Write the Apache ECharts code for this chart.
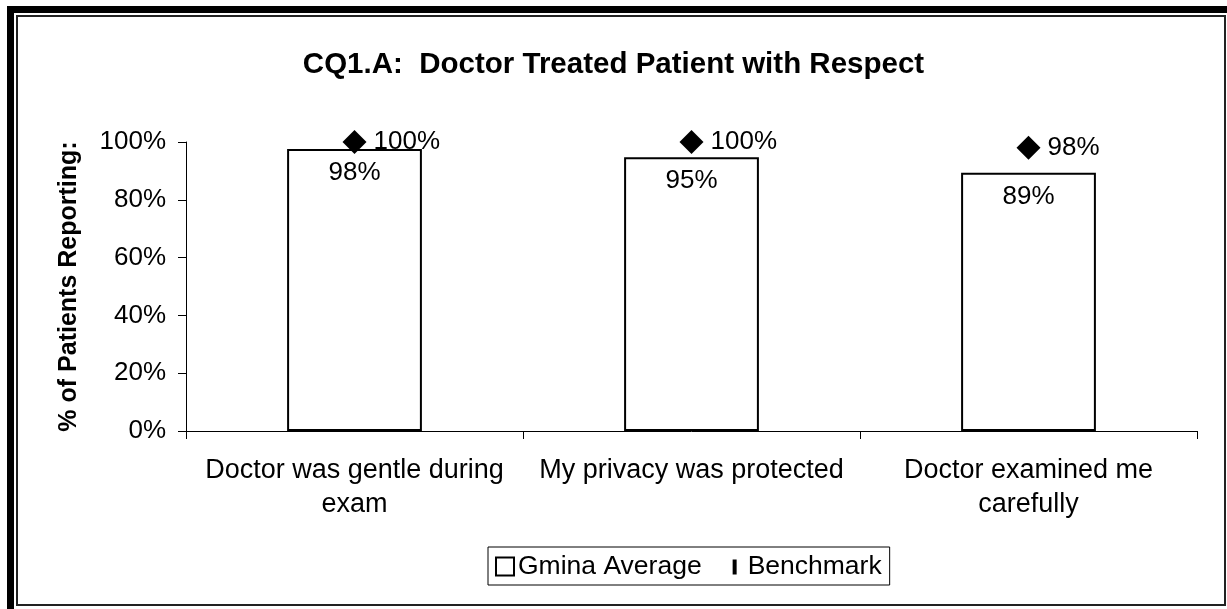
<!DOCTYPE html>
<html>
<head>
<meta charset="utf-8">
<script src="https://cdn.jsdelivr.net/npm/echarts@6/dist/echarts.min.js"></script>
<style>
  html, body { margin: 0; padding: 0; background: #fff; }
  #chart { width: 1227px; height: 609px; }
</style>
</head>
<body>
<div id="chart"></div>
<script>
  // data
  var categories = ['Doctor was gentle during\nexam', 'My privacy was protected', 'Doctor examined me\ncarefully']
  var gminaAverage = [97.6, 94.7, 89.4]
  var benchmark = [100, 100, 98]
  var yTicks = [0, 20, 40, 60, 80, 100]

  var font = 'Liberation Sans, Arial, sans-serif'
  var chart = echarts.init(document.getElementById('chart'))

  chart.setOption({
    animation: false,
    backgroundColor: '#fff',
    textStyle: { fontFamily: font, color: '#000' },
    title: {
      text: 'CQ1.A:  Doctor Treated Patient with Respect',
      left: 'center',
      top: 45,
      textStyle: { fontFamily: font, fontSize: 29.5, fontWeight: 'bold', color: '#000' }
    },
    // frame around the chart
    graphic: [
      { type: 'rect', shape: { x: 7, y: 6, width: 7, height: 603 }, style: { fill: '#000' } },
      { type: 'rect', shape: { x: 7, y: 6, width: 1220, height: 7 }, style: { fill: '#000' } },
      { type: 'rect', shape: { x: 17, y: 16, width: 1208, height: 589 }, style: { fill: 'none', stroke: '#222', lineWidth: 2 } }
    ],
    legend: {
      left: 488,
      top: 547,
      padding: [6, 8, 5, 7],
      borderColor: '#000',
      borderWidth: 1,
      itemGap: 24,
      itemWidth: 18,
      itemHeight: 18,
      textStyle: { fontFamily: font, fontSize: 26.5, color: '#000', padding: [0, 0, 0, -1] },
      data: [
        { name: 'Gmina Average', icon: 'rect', itemStyle: { color: '#fff', borderColor: '#000', borderWidth: 2 } },
        { name: 'Benchmark', icon: 'path://M0,0 L0,0 M7,2 L11,2 L11,17 L7,17 Z M18,18 L18,18', itemStyle: { color: '#000' } }
      ]
    },
    grid: { left: 186, right: 30, top: 142, bottom: 178 },
    xAxis: {
      type: 'category',
      data: categories,
      axisLine: { lineStyle: { color: '#000', width: 1 } },
      axisTick: { show: true, length: 8, lineStyle: { color: '#000' } },
      axisLabel: { color: '#000', fontSize: 27, margin: 23, lineHeight: 34, interval: 0 }
    },
    yAxis: {
      type: 'value',
      min: yTicks[0],
      max: yTicks[yTicks.length - 1],
      interval: 20,
      name: '% of Patients Reporting:',
      nameLocation: 'middle',
      nameRotate: 90,
      nameGap: 104,
      nameTextStyle: { fontFamily: font, fontSize: 25, fontWeight: 'bold', color: '#000' },
      splitLine: { show: false },
      axisLine: { show: true, lineStyle: { color: '#000', width: 1 } },
      axisTick: { show: true, length: 8, lineStyle: { color: '#000' } },
      axisLabel: { color: '#000', fontSize: 26, margin: 20, formatter: '{value}%' }
    },
    series: [
      {
        name: 'Gmina Average',
        type: 'bar',
        data: gminaAverage,
        barWidth: '40%',
        itemStyle: { color: '#fff', borderColor: '#000', borderWidth: 2 },
        label: {
          show: true,
          position: 'insideTop',
          distance: 11,
          color: '#000',
          fontSize: 26,
          formatter: function (p) { return Math.round(p.value) + '%' }
        }
      },
      {
        name: 'Benchmark',
        type: 'scatter',
        data: benchmark,
        symbol: 'diamond',
        symbolSize: 24,
        itemStyle: { color: '#000', opacity: 1 },
        z: 5,
        label: {
          show: true,
          position: 'right',
          distance: 7,
          color: '#000',
          fontSize: 26,
          formatter: '{c}%'
        }
      }
    ]
  })
</script>
</body>
</html>
